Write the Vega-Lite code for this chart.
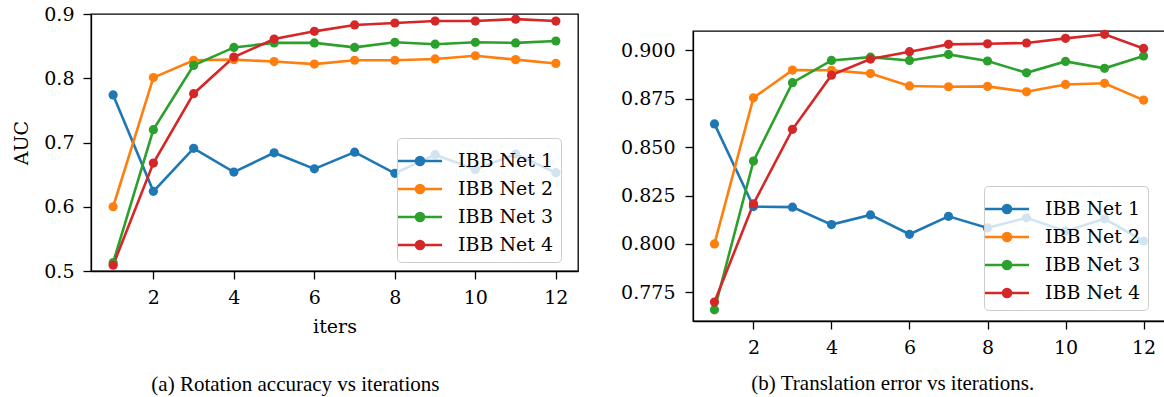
{
  "$schema": "https://vega.github.io/schema/vega-lite/v6.json",
  "padding": {"left": 12, "top": 4, "right": 0, "bottom": 0},
  "background": "white",
  "spacing": 40,
  "datasets": {
    "rot": [
      {"iter": 1, "net": "IBB Net 1", "auc": 0.774}, {"iter": 2, "net": "IBB Net 1", "auc": 0.624}, {"iter": 3, "net": "IBB Net 1", "auc": 0.691}, {"iter": 4, "net": "IBB Net 1", "auc": 0.654}, {"iter": 5, "net": "IBB Net 1", "auc": 0.684}, {"iter": 6, "net": "IBB Net 1", "auc": 0.659}, {"iter": 7, "net": "IBB Net 1", "auc": 0.685}, {"iter": 8, "net": "IBB Net 1", "auc": 0.652}, {"iter": 9, "net": "IBB Net 1", "auc": 0.681}, {"iter": 10, "net": "IBB Net 1", "auc": 0.658}, {"iter": 11, "net": "IBB Net 1", "auc": 0.682}, {"iter": 12, "net": "IBB Net 1", "auc": 0.653},
      {"iter": 1, "net": "IBB Net 2", "auc": 0.600}, {"iter": 2, "net": "IBB Net 2", "auc": 0.801}, {"iter": 3, "net": "IBB Net 2", "auc": 0.828}, {"iter": 4, "net": "IBB Net 2", "auc": 0.829}, {"iter": 5, "net": "IBB Net 2", "auc": 0.826}, {"iter": 6, "net": "IBB Net 2", "auc": 0.822}, {"iter": 7, "net": "IBB Net 2", "auc": 0.828}, {"iter": 8, "net": "IBB Net 2", "auc": 0.828}, {"iter": 9, "net": "IBB Net 2", "auc": 0.830}, {"iter": 10, "net": "IBB Net 2", "auc": 0.835}, {"iter": 11, "net": "IBB Net 2", "auc": 0.829}, {"iter": 12, "net": "IBB Net 2", "auc": 0.823},
      {"iter": 1, "net": "IBB Net 3", "auc": 0.513}, {"iter": 2, "net": "IBB Net 3", "auc": 0.720}, {"iter": 3, "net": "IBB Net 3", "auc": 0.820}, {"iter": 4, "net": "IBB Net 3", "auc": 0.848}, {"iter": 5, "net": "IBB Net 3", "auc": 0.855}, {"iter": 6, "net": "IBB Net 3", "auc": 0.855}, {"iter": 7, "net": "IBB Net 3", "auc": 0.848}, {"iter": 8, "net": "IBB Net 3", "auc": 0.856}, {"iter": 9, "net": "IBB Net 3", "auc": 0.853}, {"iter": 10, "net": "IBB Net 3", "auc": 0.856}, {"iter": 11, "net": "IBB Net 3", "auc": 0.855}, {"iter": 12, "net": "IBB Net 3", "auc": 0.858},
      {"iter": 1, "net": "IBB Net 4", "auc": 0.509}, {"iter": 2, "net": "IBB Net 4", "auc": 0.668}, {"iter": 3, "net": "IBB Net 4", "auc": 0.776}, {"iter": 4, "net": "IBB Net 4", "auc": 0.833}, {"iter": 5, "net": "IBB Net 4", "auc": 0.861}, {"iter": 6, "net": "IBB Net 4", "auc": 0.873}, {"iter": 7, "net": "IBB Net 4", "auc": 0.883}, {"iter": 8, "net": "IBB Net 4", "auc": 0.886}, {"iter": 9, "net": "IBB Net 4", "auc": 0.889}, {"iter": 10, "net": "IBB Net 4", "auc": 0.889}, {"iter": 11, "net": "IBB Net 4", "auc": 0.892}, {"iter": 12, "net": "IBB Net 4", "auc": 0.889}
    ],
    "trans": [
      {"iter": 1, "net": "IBB Net 1", "val": 0.862}, {"iter": 2, "net": "IBB Net 1", "val": 0.8193}, {"iter": 3, "net": "IBB Net 1", "val": 0.819}, {"iter": 4, "net": "IBB Net 1", "val": 0.810}, {"iter": 5, "net": "IBB Net 1", "val": 0.815}, {"iter": 6, "net": "IBB Net 1", "val": 0.805}, {"iter": 7, "net": "IBB Net 1", "val": 0.8143}, {"iter": 8, "net": "IBB Net 1", "val": 0.8083}, {"iter": 9, "net": "IBB Net 1", "val": 0.8135}, {"iter": 10, "net": "IBB Net 1", "val": 0.8066}, {"iter": 11, "net": "IBB Net 1", "val": 0.813}, {"iter": 12, "net": "IBB Net 1", "val": 0.8015},
      {"iter": 1, "net": "IBB Net 2", "val": 0.800}, {"iter": 2, "net": "IBB Net 2", "val": 0.8755}, {"iter": 3, "net": "IBB Net 2", "val": 0.8898}, {"iter": 4, "net": "IBB Net 2", "val": 0.8897}, {"iter": 5, "net": "IBB Net 2", "val": 0.888}, {"iter": 6, "net": "IBB Net 2", "val": 0.8816}, {"iter": 7, "net": "IBB Net 2", "val": 0.8812}, {"iter": 8, "net": "IBB Net 2", "val": 0.8814}, {"iter": 9, "net": "IBB Net 2", "val": 0.8786}, {"iter": 10, "net": "IBB Net 2", "val": 0.8824}, {"iter": 11, "net": "IBB Net 2", "val": 0.883}, {"iter": 12, "net": "IBB Net 2", "val": 0.8743},
      {"iter": 1, "net": "IBB Net 3", "val": 0.766}, {"iter": 2, "net": "IBB Net 3", "val": 0.8428}, {"iter": 3, "net": "IBB Net 3", "val": 0.8833}, {"iter": 4, "net": "IBB Net 3", "val": 0.8948}, {"iter": 5, "net": "IBB Net 3", "val": 0.8965}, {"iter": 6, "net": "IBB Net 3", "val": 0.8948}, {"iter": 7, "net": "IBB Net 3", "val": 0.8979}, {"iter": 8, "net": "IBB Net 3", "val": 0.8945}, {"iter": 9, "net": "IBB Net 3", "val": 0.8884}, {"iter": 10, "net": "IBB Net 3", "val": 0.8943}, {"iter": 11, "net": "IBB Net 3", "val": 0.8907}, {"iter": 12, "net": "IBB Net 3", "val": 0.8971},
      {"iter": 1, "net": "IBB Net 4", "val": 0.770}, {"iter": 2, "net": "IBB Net 4", "val": 0.8207}, {"iter": 3, "net": "IBB Net 4", "val": 0.8592}, {"iter": 4, "net": "IBB Net 4", "val": 0.8872}, {"iter": 5, "net": "IBB Net 4", "val": 0.8955}, {"iter": 6, "net": "IBB Net 4", "val": 0.8993}, {"iter": 7, "net": "IBB Net 4", "val": 0.9031}, {"iter": 8, "net": "IBB Net 4", "val": 0.9034}, {"iter": 9, "net": "IBB Net 4", "val": 0.9038}, {"iter": 10, "net": "IBB Net 4", "val": 0.9062}, {"iter": 11, "net": "IBB Net 4", "val": 0.9083}, {"iter": 12, "net": "IBB Net 4", "val": 0.901}
    ]
  },
  "config": {
    "font": "DejaVu Serif",
    "view": {"stroke": "black", "strokeWidth": 1.3},
    "axis": {"grid": false, "domainColor": "black", "domainWidth": 1.3, "tickColor": "black", "tickWidth": 1.3, "tickSize": 8, "labelColor": "black", "labelFont": "DejaVu Serif", "labelFontSize": 19, "labelPadding": 9, "titleFont": "DejaVu Serif", "titleFontSize": 19, "titleFontWeight": "normal", "titleColor": "black"},
    "legend": {"labelFont": "DejaVu Serif", "labelFontSize": 19, "labelColor": "black", "labelLimit": 300},
    "title": {"font": "Liberation Serif", "fontSize": 21, "fontWeight": "normal", "color": "black"}
  },
  "resolve": {"scale": {"color": "independent"}, "legend": {"color": "independent"}},
  "hconcat": [
    {
      "width": 487,
      "height": 257,
      "data": {"name": "rot"},
      "title": {"text": "(a) Rotation accuracy vs iterations", "orient": "bottom", "frame": "bounds", "anchor": "middle", "offset": 38},
      "encoding": {
        "x": {"field": "iter", "type": "quantitative", "scale": {"domain": [0.45, 12.55], "nice": false, "zero": false}, "axis": {"values": [2, 4, 6, 8, 10, 12], "format": "d", "title": "iters", "titlePadding": 10}},
        "y": {"field": "auc", "type": "quantitative", "scale": {"domain": [0.5, 0.9], "nice": false, "zero": false}, "axis": {"values": [0.5, 0.6, 0.7, 0.8, 0.9], "format": ".1f", "title": "AUC", "titlePadding": 12}}
      },
      "layer": [
        {
          "mark": {"type": "line", "strokeWidth": 2.6},
          "encoding": {
            "color": {"field": "net", "type": "nominal", "scale": {"domain": ["IBB Net 1", "IBB Net 2", "IBB Net 3", "IBB Net 4"], "range": ["#1f77b4", "#ff7f0e", "#2ca02c", "#d62728"]},
              "legend": {"title": null, "orient": "none", "legendX": 306, "legendY": 124, "symbolType": "M-1.5,0L1.5,0M-0.273,0A0.273,0.273,0,1,0,0.273,0A0.273,0.273,0,1,0,-0.273,0M-0.116,0A0.116,0.116,0,1,0,0.116,0A0.116,0.116,0,1,0,-0.116,0", "symbolSize": 861, "symbolStrokeWidth": 2.6, "labelFont": "DejaVu Serif", "labelFontSize": 19, "labelOffset": 22, "rowPadding": 2, "padding": 7, "fillColor": "rgba(255,255,255,0.8)", "strokeColor": "#cccccc", "cornerRadius": 4}}
          }
        },
        {
          "mark": {"type": "point", "filled": true, "size": 85, "opacity": 1},
          "encoding": {
            "color": {"field": "net", "type": "nominal", "scale": {"domain": ["IBB Net 1", "IBB Net 2", "IBB Net 3", "IBB Net 4"], "range": ["#1f77b4", "#ff7f0e", "#2ca02c", "#d62728"]}, "legend": null}
          }
        }
      ]
    },
    {
      "spacing": 13,
      "vconcat": [
        {
          "width": 472,
          "height": 1,
          "view": {"stroke": null},
          "data": {"values": []},
          "mark": {"type": "point", "opacity": 0},
          "encoding": {}
        },
        {
          "width": 472,
          "height": 290,
          "data": {"name": "trans"},
          "title": {"text": "(b) Translation error vs iterations.", "orient": "bottom", "frame": "bounds", "anchor": "middle", "offset": 16},
          "encoding": {
            "x": {"field": "iter", "type": "quantitative", "scale": {"domain": [0.45, 12.55], "nice": false, "zero": false}, "axis": {"values": [2, 4, 6, 8, 10, 12], "format": "d", "title": null}},
            "y": {"field": "val", "type": "quantitative", "scale": {"domain": [0.7602, 0.91], "nice": false, "zero": false}, "axis": {"values": [0.775, 0.8, 0.825, 0.85, 0.875, 0.9], "format": ".3f", "title": null, "labelPadding": 10}}
          },
          "layer": [
            {
              "mark": {"type": "line", "strokeWidth": 2.6},
              "encoding": {
                "color": {"field": "net", "type": "nominal", "scale": {"domain": ["IBB Net 1", "IBB Net 2", "IBB Net 3", "IBB Net 4"], "range": ["#1f77b4", "#ff7f0e", "#2ca02c", "#d62728"]},
                  "legend": {"title": null, "orient": "none", "legendX": 291, "legendY": 172, "symbolType": "M-1.5,0L1.5,0M-0.273,0A0.273,0.273,0,1,0,0.273,0A0.273,0.273,0,1,0,-0.273,0M-0.116,0A0.116,0.116,0,1,0,0.116,0A0.116,0.116,0,1,0,-0.116,0", "symbolSize": 861, "symbolStrokeWidth": 2.6, "labelFont": "DejaVu Serif", "labelFontSize": 19, "labelOffset": 22, "rowPadding": 2, "padding": 7, "fillColor": "rgba(255,255,255,0.8)", "strokeColor": "#cccccc", "cornerRadius": 4}}
              }
            },
            {
              "mark": {"type": "point", "filled": true, "size": 85, "opacity": 1},
              "encoding": {
                "color": {"field": "net", "type": "nominal", "scale": {"domain": ["IBB Net 1", "IBB Net 2", "IBB Net 3", "IBB Net 4"], "range": ["#1f77b4", "#ff7f0e", "#2ca02c", "#d62728"]}, "legend": null}
              }
            }
          ]
        }
      ]
    }
  ]
}
